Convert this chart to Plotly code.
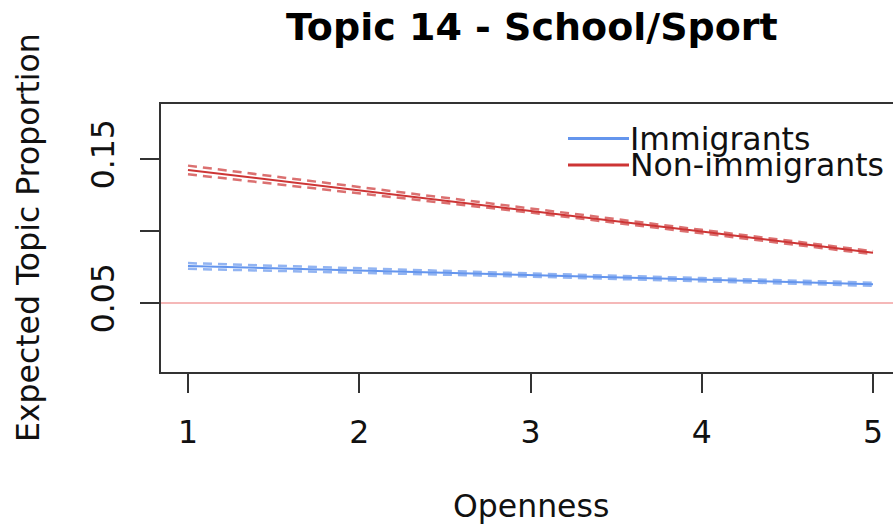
import plotly.graph_objects as go

# ---- data ----
openness = [1, 2, 3, 4, 5]
imm_mean = [0.0757, 0.0725, 0.0694, 0.0662, 0.0630]
imm_lower = [0.0737, 0.0711, 0.0683, 0.0651, 0.0619]
imm_upper = [0.0777, 0.0739, 0.0705, 0.0673, 0.0641]
non_mean = [0.1424, 0.1283, 0.1142, 0.0996, 0.0849]
non_lower = [0.1394, 0.1262, 0.1128, 0.0984, 0.0838]
non_upper = [0.1454, 0.1304, 0.1156, 0.1008, 0.0860]
ref_line = 0.05
x_ticks = [1, 2, 3, 4, 5]
y_ticks = [0.05, 0.10, 0.15]
y_ticktext = ["0.05", "", "0.15"]
legend_labels = ["Immigrants", "Non-immigrants"]

BLUE = "#6495ED"
RED = "#CD3535"
FONT = "DejaVu Sans"

W, H = 893, 527
L, T, B = 161, 104, 155
plot_w = W - L
plot_h = H - T - B


def px_to_paper(xp, yp):
    return (xp - L) / plot_w, (H - B - yp) / plot_h


fig = go.Figure()

for lo, hi, mean, col in [
    (imm_lower, imm_upper, imm_mean, BLUE),
    (non_lower, non_upper, non_mean, RED),
]:
    for ci in (lo, hi):
        fig.add_trace(go.Scatter(x=openness, y=ci, mode="lines",
                                 line=dict(color=col, width=2.5, dash="9px,6px"),
                                 opacity=0.7, showlegend=False, hoverinfo="skip"))
    fig.add_trace(go.Scatter(x=openness, y=mean, mode="lines",
                             line=dict(color=col, width=2), showlegend=False))

shapes = [
    dict(type="line", xref="paper", yref="y", x0=0, x1=1, y0=ref_line, y1=ref_line,
         line=dict(color="#F5B8B8", width=2), layer="below"),
]
annotations = []

# manual legend
leg_x0, leg_x1 = px_to_paper(568, 0)[0], px_to_paper(629, 0)[0]
for label, col, yp in [(legend_labels[0], BLUE, 138.5), (legend_labels[1], RED, 165)]:
    ypp = px_to_paper(0, yp)[1]
    shapes.append(dict(type="line", xref="paper", yref="paper", x0=leg_x0, x1=leg_x1,
                       y0=ypp, y1=ypp, line=dict(color=col, width=3)))
    annotations.append(dict(text=label, xref="paper", yref="paper",
                            x=px_to_paper(628, 0)[0], y=ypp, xanchor="left", yanchor="middle",
                            showarrow=False, font=dict(family=FONT, size=31.5, color="#111")))

# titles
tx, ty = px_to_paper(532, 27)
annotations.append(dict(text="<b>Topic 14 - School/Sport</b>", xref="paper", yref="paper",
                        x=tx, y=ty, xanchor="center", yanchor="middle", showarrow=False,
                        font=dict(family=FONT, size=38, color="#000")))
ox, oy = px_to_paper(531, 506)
annotations.append(dict(text="Openness", xref="paper", yref="paper", x=ox, y=oy,
                        xanchor="center", yanchor="middle", showarrow=False,
                        font=dict(family=FONT, size=31.5, color="#111")))
yx, yy = px_to_paper(28, 238)
annotations.append(dict(text="Expected Topic Proportion", xref="paper", yref="paper",
                        x=yx, y=yy, xanchor="center", yanchor="middle", textangle=-90,
                        showarrow=False, font=dict(family=FONT, size=31.5, color="#111")))

fig.update_layout(
    width=W, height=H,
    margin=dict(l=L, r=0, t=T, b=B, pad=0),
    paper_bgcolor="white", plot_bgcolor="white",
    showlegend=False,
    shapes=shapes, annotations=annotations,
    xaxis=dict(range=[0.8424, 5.1167], tickvals=x_ticks, ticktext=[str(v) for v in x_ticks],
               showgrid=False, zeroline=False, showline=True, mirror=True,
               linecolor="#333", linewidth=2, ticks="outside", ticklen=19, tickwidth=2,
               tickcolor="#333", ticklabelstandoff=12,
               tickfont=dict(family=FONT, size=31.5, color="#111")),
    yaxis=dict(range=[0.00208, 0.18819], tickvals=y_ticks, ticktext=y_ticktext,
               showgrid=False, zeroline=False, showline=True, mirror=False,
               linecolor="#333", linewidth=2, ticks="outside", ticklen=19, tickwidth=2,
               tickcolor="#333", tickangle=-90, ticklabelstandoff=13,
               tickfont=dict(family=FONT, size=31.5, color="#111")),
)

fig.write_html("out.html")
